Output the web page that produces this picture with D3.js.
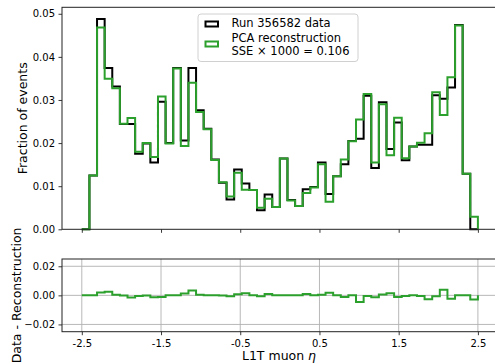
<!DOCTYPE html>
<html>
<head>
<meta charset="utf-8">
<script src="https://cdn.jsdelivr.net/npm/d3@7"></script>
<style>
  body { margin: 0; background: #fff; }
  svg text { font-family: "DejaVu Sans", sans-serif; fill: #000; }
</style>
</head>
<body>
<div id="chart"></div>
<script>
// Histogram binning: 52 equal bins between -2.5 and 2.5
const etaLimits = [-2.5, 2.5];
const nBins = 52;

// Fraction of events per bin
const dataFrac = [
  0.0000, 0.0125, 0.0488, 0.0374, 0.0331, 0.0244, 0.0244, 0.0175, 0.0199, 0.0155,
  0.0296, 0.0200, 0.0374, 0.0206, 0.0374, 0.0276, 0.0233, 0.0162, 0.0108, 0.0069,
  0.0139, 0.0106, 0.0091, 0.0044, 0.0081, 0.0052, 0.0164, 0.0068, 0.0054, 0.0093,
  0.0098, 0.0155, 0.0082, 0.0123, 0.0151, 0.0205, 0.0210, 0.0310, 0.0142, 0.0295,
  0.0186, 0.0248, 0.0160, 0.0192, 0.0196, 0.0196, 0.0311, 0.0303, 0.0329, 0.0474,
  0.0129, 0.0000
];
const recoFrac = [
  0.0000, 0.0125, 0.0468, 0.0349, 0.0327, 0.0245, 0.0258, 0.0180, 0.0200, 0.0168,
  0.0308, 0.0199, 0.0373, 0.0193, 0.0340, 0.0272, 0.0232, 0.0161, 0.0109, 0.0076,
  0.0131, 0.0092, 0.0091, 0.0050, 0.0071, 0.0052, 0.0164, 0.0067, 0.0054, 0.0084,
  0.0097, 0.0151, 0.0064, 0.0123, 0.0162, 0.0204, 0.0255, 0.0314, 0.0155, 0.0290,
  0.0172, 0.0259, 0.0165, 0.0192, 0.0201, 0.0223, 0.0318, 0.0265, 0.0353, 0.0473,
  0.0129, 0.0029
];

const xTickValues = [-2.5, -1.5, -0.5, 0.5, 1.5, 2.5];
const xTickLabels = ['-2.5', '-1.5', '-0.5', '0.5', '1.5', '2.5'];
const yTicksMain = [0, 0.01, 0.02, 0.03, 0.04, 0.05];
const yTicksRatio = [-0.02, 0, 0.02];
const legendLabels = ['Run 356582 data', 'PCA reconstruction', 'SSE \u00d7 1000 = 0.106'];

const EtaPlot = {
  svg: null,
  width: 495,
  height: 364,
  colors: { data: '#000000', reco: '#2ca02c', grid: '#b0b0b0', spine: '#222' },

  init() {
    this.edges = d3.range(nBins + 1).map(i => etaLimits[0] + i * (etaLimits[1] - etaLimits[0]) / nBins);
    this.residual = dataFrac.map((d, i) => d - recoFrac[i]);

    this.svg = d3.select('#chart')
      .append('svg')
      .attr('width', this.width)
      .attr('height', this.height);

    this.x = d3.scaleLinear().domain([-2.75, 2.75]).range([62, 497.7]);
    this.yMain = d3.scaleLinear().domain([0, 0.0515]).range([229.3, 7.3]);
    this.yRatio = d3.scaleLinear().domain([-0.025, 0.025]).range([331.7, 259]);

    this.drawMain();
    this.drawRatio();
    this.drawLegend();
  },

  // outline of a step histogram, dropping to the baseline at both ends
  stepPoints(values, base) {
    const pts = [[this.edges[0], base]];
    values.forEach((v, i) => {
      pts.push([this.edges[i], v]);
      pts.push([this.edges[i + 1], v]);
    });
    pts.push([this.edges[nBins], base]);
    return pts;
  },

  drawMain() {
    const g = this.svg.append('g');
    const x = this.x, y = this.yMain;

    const line = d3.line().x(d => x(d[0])).y(d => y(d[1]));

    g.append('path')
      .attr('d', line(this.stepPoints(dataFrac, 0)))
      .attr('fill', 'none')
      .attr('stroke', this.colors.data)
      .attr('stroke-width', 2);

    g.append('path')
      .attr('d', line(this.stepPoints(recoFrac, 0)))
      .attr('fill', 'none')
      .attr('stroke', this.colors.reco)
      .attr('stroke-width', 2);

    // Axes
    const yAxis = d3.axisLeft(y)
      .tickValues(yTicksMain)
      .tickFormat(d3.format('.2f'))
      .tickSize(3.5)
      .tickPadding(3.5)
      .tickSizeOuter(0);

    const xAxis = d3.axisBottom(x)
      .tickValues(xTickValues)
      .tickFormat('')
      .tickSize(3.5)
      .tickSizeOuter(0);

    this.styleAxis(g.append('g').attr('transform', 'translate(62,0)').call(yAxis));
    this.styleAxis(g.append('g').attr('transform', 'translate(0,229.3)').call(xAxis));

    g.append('rect')
      .attr('x', 62).attr('y', 7.3)
      .attr('width', 497.7 - 62).attr('height', 229.3 - 7.3)
      .attr('fill', 'none')
      .attr('stroke', this.colors.spine)
      .attr('stroke-width', 1);

    g.append('text')
      .attr('transform', 'translate(22,118.3) rotate(-90)')
      .attr('text-anchor', 'middle')
      .attr('dominant-baseline', 'central')
      .attr('font-size', 12.5)
      .text('Fraction of events');
  },

  drawRatio() {
    const g = this.svg.append('g');
    const x = this.x, y = this.yRatio;

    // Grid
    g.append('g')
      .selectAll('line.vgrid')
      .data(xTickValues)
      .join('line')
      .attr('x1', d => x(d)).attr('x2', d => x(d))
      .attr('y1', 259).attr('y2', 331.7)
      .attr('stroke', this.colors.grid)
      .attr('stroke-width', 0.9);

    g.append('g')
      .selectAll('line.hgrid')
      .data(yTicksRatio)
      .join('line')
      .attr('x1', 62).attr('x2', 497.7)
      .attr('y1', d => y(d)).attr('y2', d => y(d))
      .attr('stroke', this.colors.grid)
      .attr('stroke-width', 0.9);

    const line = d3.line().x(d => x(d[0])).y(d => y(d[1]));

    g.append('path')
      .attr('d', line(this.stepPoints(this.residual, 0)))
      .attr('fill', 'none')
      .attr('stroke', this.colors.reco)
      .attr('stroke-width', 2);

    const yAxis = d3.axisLeft(y)
      .tickValues(yTicksRatio)
      .tickFormat(d3.format('.2f'))
      .tickSize(3.5)
      .tickPadding(3.5)
      .tickSizeOuter(0);

    const xAxis = d3.axisBottom(x)
      .tickValues(xTickValues)
      .tickFormat((d, i) => xTickLabels[i])
      .tickSize(3.5)
      .tickPadding(4.5)
      .tickSizeOuter(0);

    this.styleAxis(g.append('g').attr('transform', 'translate(62,0)').call(yAxis));
    this.styleAxis(g.append('g').attr('transform', 'translate(0,331.7)').call(xAxis));

    g.append('rect')
      .attr('x', 62).attr('y', 259)
      .attr('width', 497.7 - 62).attr('height', 331.7 - 259)
      .attr('fill', 'none')
      .attr('stroke', this.colors.spine)
      .attr('stroke-width', 1);

    g.append('text')
      .attr('transform', 'translate(16,295.4) rotate(-90)')
      .attr('text-anchor', 'middle')
      .attr('dominant-baseline', 'central')
      .attr('font-size', 12.5)
      .text('Data - Reconstruction');

    const xl = g.append('text')
      .attr('x', 279)
      .attr('y', 359.5)
      .attr('text-anchor', 'middle')
      .attr('font-size', 12.5);
    xl.append('tspan').text('L1T muon ');
    xl.append('tspan').attr('font-style', 'italic').text('\u03b7');
  },

  styleAxis(sel) {
    sel.select('.domain').remove();
    sel.selectAll('.tick line').attr('stroke', this.colors.spine).attr('stroke-width', 0.9);
    sel.selectAll('.tick text').attr('font-size', 10).attr('fill', '#000');
  },

  drawLegend() {
    const g = this.svg.append('g');

    g.append('rect')
      .attr('x', 198).attr('y', 14)
      .attr('width', 160).attr('height', 47.5)
      .attr('rx', 3)
      .attr('fill', '#fff')
      .attr('fill-opacity', 0.8)
      .attr('stroke', '#d0d0d0')
      .attr('stroke-width', 1);

    const entries = [
      { color: this.colors.data, lines: [legendLabels[0]], cy: 22.8, hy: 24 },
      { color: this.colors.reco, lines: [legendLabels[1], legendLabels[2]], cy: 44.6, hy: 44 }
    ];

    entries.forEach(e => {
      g.append('rect')
        .attr('x', 205.5).attr('y', e.hy - 2.5)
        .attr('width', 12.5).attr('height', 5)
        .attr('fill', 'none')
        .attr('stroke', e.color)
        .attr('stroke-width', 2);

      const n = e.lines.length;
      e.lines.forEach((t, k) => {
        g.append('text')
          .attr('x', 231.5)
          .attr('y', e.cy + (k - (n - 1) / 2) * 13.4)
          .attr('dominant-baseline', 'central')
          .attr('font-size', 11.5)
          .text(t);
      });
    });
  }
};

EtaPlot.init();
</script>
</body>
</html>
